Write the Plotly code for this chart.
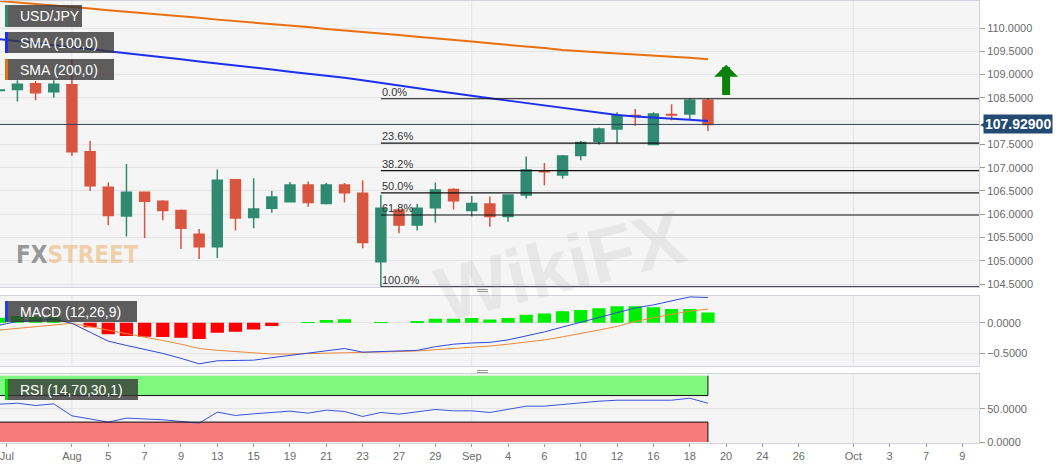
import pandas as pd
import plotly.graph_objects as go
from plotly.subplots import make_subplots

# USD/JPY daily candles, 26 Jul - 19 Sep 2019
dates = ["2019-07-26", "2019-07-29", "2019-07-30", "2019-07-31", "2019-08-01", "2019-08-02",
         "2019-08-05", "2019-08-06", "2019-08-07", "2019-08-08", "2019-08-09", "2019-08-12",
         "2019-08-13", "2019-08-14", "2019-08-15", "2019-08-16", "2019-08-19", "2019-08-20",
         "2019-08-21", "2019-08-22", "2019-08-23", "2019-08-26", "2019-08-27", "2019-08-28",
         "2019-08-29", "2019-08-30", "2019-09-02", "2019-09-03", "2019-09-04", "2019-09-05",
         "2019-09-06", "2019-09-09", "2019-09-10", "2019-09-11", "2019-09-12", "2019-09-13",
         "2019-09-16", "2019-09-17", "2019-09-18", "2019-09-19"]
opens = [108.66, 108.68, 108.80, 108.63, 108.78, 107.34, 106.58, 105.96, 106.47, 106.28,
         106.08, 105.57, 105.30, 106.74, 105.93, 106.13, 106.27, 106.63, 106.23, 106.63,
         106.45, 104.98, 106.09, 105.77, 106.14, 106.53, 106.08, 106.22, 105.95, 106.41,
         106.92, 106.84, 107.26, 107.56, 107.83, 108.12, 107.50, 108.14, 108.15, 108.45]
highs = [108.72, 108.88, 108.86, 108.88, 109.31, 107.57, 106.68, 107.08, 106.48, 106.30,
         106.10, 105.68, 106.96, 106.75, 106.77, 106.50, 106.69, 106.70, 106.67, 106.67,
         106.73, 106.41, 106.10, 106.22, 106.68, 106.56, 106.39, 106.38, 106.43, 107.24,
         107.10, 107.27, 107.57, 107.86, 108.19, 108.26, 108.19, 108.36, 108.49, 108.49]
lows = [108.62, 108.42, 108.45, 108.50, 107.25, 106.50, 105.77, 105.52, 105.49, 105.87,
        105.25, 105.04, 105.06, 105.65, 105.70, 106.03, 106.25, 106.16, 106.21, 106.25,
        105.27, 104.44, 105.59, 105.65, 105.82, 106.10, 105.95, 105.73, 105.84, 106.34,
        106.62, 106.76, 107.16, 107.49, 107.52, 107.90, 107.49, 108.02, 108.04, 107.79]
closes = [108.67, 108.79, 108.61, 108.79, 107.34, 106.61, 105.97, 106.47, 106.28, 106.08,
          105.70, 105.30, 106.73, 105.92, 106.11, 106.37, 106.63, 106.25, 106.63, 106.46,
          105.39, 106.13, 105.77, 106.13, 106.52, 106.29, 106.23, 105.95, 106.41, 106.95,
          106.91, 107.25, 107.54, 107.83, 108.12, 108.11, 108.15, 108.13, 108.45, 107.929]

sma100 = [109.76, 109.72, 109.68, 109.63, 109.59, 109.55, 109.50, 109.46, 109.41, 109.37,
          109.33, 109.28, 109.24, 109.20, 109.15, 109.11, 109.06, 109.02, 108.98, 108.93,
          108.88, 108.82, 108.76, 108.71, 108.65, 108.60, 108.54, 108.49, 108.44, 108.39,
          108.34, 108.29, 108.23, 108.18, 108.13, 108.10, 108.08, 108.05, 108.03, 108.00]
sma200 = [110.58, 110.55, 110.52, 110.48, 110.45, 110.42, 110.38, 110.35, 110.32, 110.28,
          110.25, 110.22, 110.18, 110.15, 110.12, 110.08, 110.05, 110.02, 109.98, 109.95,
          109.92, 109.88, 109.85, 109.81, 109.78, 109.74, 109.71, 109.67, 109.64, 109.60,
          109.57, 109.53, 109.50, 109.47, 109.45, 109.43, 109.40, 109.38, 109.36, 109.33]

macd = [-0.04, 0.02, 0.035, 0.06, -0.01, -0.16, -0.30, -0.37, -0.43, -0.50,
        -0.58, -0.67, -0.62, -0.62, -0.61, -0.57, -0.53, -0.50, -0.46, -0.42,
        -0.48, -0.47, -0.47, -0.45, -0.39, -0.35, -0.33, -0.32, -0.28, -0.22,
        -0.15, -0.07, 0.01, 0.08, 0.16, 0.24, 0.29, 0.35, 0.42, 0.41]
signal = [-0.12, -0.09, -0.065, -0.04, -0.01, -0.065, -0.12, -0.17, -0.23, -0.29,
          -0.35, -0.42, -0.45, -0.47, -0.50, -0.51, -0.51, -0.505, -0.50, -0.495,
          -0.48, -0.48, -0.47, -0.46, -0.44, -0.42, -0.41, -0.38, -0.35, -0.32,
          -0.28, -0.23, -0.18, -0.12, -0.06, 0.02, 0.08, 0.14, 0.19, 0.22]
hist = [0.08, 0.11, 0.10, 0.10, 0.0, -0.076, -0.19, -0.217, -0.228, -0.234,
        -0.245, -0.266, -0.163, -0.147, -0.109, -0.054, 0.0, 0.005, 0.045, 0.055,
        0.0, 0.005, 0.0, 0.02, 0.065, 0.065, 0.076, 0.054, 0.076, 0.13,
        0.15, 0.185, 0.207, 0.234, 0.266, 0.266, 0.25, 0.223, 0.223, 0.168]

rsi = [57.0, 58.5, 55.0, 57.5, 39.5, 35.0, 30.0, 36.0, 34.8, 33.5,
       31.0, 28.5, 45.0, 40.0, 42.5, 44.5, 46.5, 43.5, 48.0, 46.0,
       38.5, 44.5, 42.0, 45.5, 49.0, 47.0, 47.0, 44.5, 49.0, 54.0,
       54.0, 56.6, 59.5, 61.5, 63.0, 63.0, 63.0, 63.0, 66.0, 58.5]

# fibonacci retracement from the 26 Aug low to the 18 Sep high
fib_low = 104.44
fib_high = 108.48
fib_start = "2019-08-26"
fib_levels = [0.0, 23.6, 38.2, 50.0, 61.8, 100.0]

last_price = 107.929
arrow_date = "2019-09-20"
arrow_from = 108.53
arrow_to = 109.21

# 108.0000 is hidden behind the last-price tag in the original
price_ticks = [104.5, 105.0, 105.5, 106.0, 106.5, 107.0, 107.5, 108.5, 109.0, 109.5, 110.0]
price_grid = [108.0]
# first label sits a little right of the 26 Jul candle
tick_dates = ["2019-07-26 10:00", "2019-08-01", "2019-08-05", "2019-08-07", "2019-08-09", "2019-08-13",
              "2019-08-15", "2019-08-19", "2019-08-21", "2019-08-23", "2019-08-27", "2019-08-29",
              "2019-09-02", "2019-09-04", "2019-09-06", "2019-09-10", "2019-09-12", "2019-09-16",
              "2019-09-18", "2019-09-20", "2019-09-24", "2019-09-26", "2019-10-01", "2019-10-03",
              "2019-10-07", "2019-10-09"]
tick_labels = ["Jul", "Aug", "5", "7", "9", "13", "15", "19", "21", "23", "27", "29",
               "Sep", "4", "6", "10", "12", "16", "18", "20", "24", "26", "Oct", "3", "7", "9"]
month_starts = ["2019-08-01", "2019-09-02", "2019-10-01"]

GREEN = "#2f8a70"
RED = "#d8553f"
GRID = "#e4e4e6"
BORDER = "#d0d3dc"
FONT = "Liberation Sans, Arial, sans-serif"

noon = pd.Timedelta(hours=12)
x = pd.to_datetime(dates) + noon
x_start = pd.Timestamp("2019-07-26 13:00")
x_end = pd.Timestamp("2019-10-10 10:00")

fig = make_subplots(rows=3, cols=1, shared_xaxes=True)

fig.add_trace(go.Candlestick(
    x=x, open=opens, high=highs, low=lows, close=closes,
    increasing=dict(line=dict(color=GREEN, width=1.5), fillcolor=GREEN),
    decreasing=dict(line=dict(color=RED, width=1.5), fillcolor=RED),
    whiskerwidth=0, showlegend=False), row=1, col=1)
fig.add_trace(go.Scatter(x=x, y=sma200, mode="lines", line=dict(color="#e8700f", width=2),
                         showlegend=False), row=1, col=1)
fig.add_trace(go.Scatter(x=x, y=sma100, mode="lines", line=dict(color="#1f2ff0", width=2),
                         showlegend=False), row=1, col=1)

fig.add_trace(go.Bar(x=x, y=hist, marker=dict(color=["#00ee00" if h >= 0 else "#ff0000" for h in hist],
                                                   line=dict(width=0)),
                     showlegend=False), row=2, col=1)
fig.add_trace(go.Scatter(x=x, y=signal, mode="lines", line=dict(color="#f08a3a", width=1),
                         showlegend=False), row=2, col=1)
fig.add_trace(go.Scatter(x=x, y=macd, mode="lines", line=dict(color="#2e4ad8", width=1),
                         showlegend=False), row=2, col=1)

fig.add_trace(go.Scatter(x=x, y=rsi, mode="lines", line=dict(color="#3a55dc", width=1),
                         showlegend=False), row=3, col=1)

# month separators in every panel
for xr, yr in [("x", "y"), ("x2", "y2"), ("x3", "y3")]:
    for m in month_starts:
        mx = pd.Timestamp(m) + noon
        fig.add_shape(type="line", x0=mx, x1=mx, y0=0, y1=1, xref=xr, yref=yr + " domain",
                      layer="below", line=dict(color=GRID, width=1))
for g in price_grid:
    fig.add_shape(type="line", x0=0, x1=1, y0=g, y1=g, xref="x domain", yref="y",
                  layer="below", line=dict(color=GRID, width=1))

# fibonacci levels
fx = pd.Timestamp(fib_start) + noon
for lvl in fib_levels:
    level_price = fib_high - lvl / 100 * (fib_high - fib_low)
    fig.add_shape(type="line", x0=fx, x1=x_end, y0=level_price, y1=level_price,
                  xref="x", yref="y", line=dict(color="#111111", width=1.2))
    fig.add_annotation(x=fx, y=level_price, xref="x", yref="y", text=f"{lvl:.1f}%",
                       showarrow=False, xanchor="left", yanchor="bottom", borderpad=0,
                       font=dict(family=FONT, size=11, color="#333333"))

# last price line and tag
fig.add_shape(type="line", x0=0, x1=1, y0=last_price, y1=last_price, xref="x domain", yref="y",
              line=dict(color="#2c3f5e", width=1))
fig.add_annotation(x=1, y=last_price, xref="paper", yref="y", text=f"<b>{last_price:.5f}</b>",
                   showarrow=False, xanchor="left", yanchor="middle", xshift=4, borderpad=1,
                   bgcolor="#234a72", font=dict(family=FONT, size=14, color="white"))
fig.add_annotation(x=1, y=last_price, xref="paper", yref="y", text="◀", showarrow=False,
                   xanchor="left", yanchor="middle", xshift=-1,
                   font=dict(family="DejaVu Sans", size=8, color="#234a72"))

# green up arrow
ax_x = pd.Timestamp(arrow_date) + noon
fig.add_annotation(x=ax_x, y=arrow_to, ax=ax_x, ay=arrow_from, xref="x", yref="y",
                   axref="x", ayref="y", text="", showarrow=True, arrowhead=1,
                   arrowsize=0.5, arrowwidth=8, arrowcolor="#0b800b")

# RSI overbought / oversold bands
x_last = x[-1]
fig.add_shape(type="rect", x0=x_start, x1=x_last, y0=70, y1=100, xref="x3", yref="y3",
              layer="below", fillcolor="#7ff87f", line=dict(width=0))
fig.add_shape(type="rect", x0=x_start, x1=x_last, y0=0, y1=30, xref="x3", yref="y3",
              layer="below", fillcolor="#f87b7b", line=dict(width=0))
for y0, y1 in [(70, 70), (30, 30), (70, 100), (0, 30)]:
    xa = x_start if y0 == y1 else x_last
    fig.add_shape(type="line", x0=xa, x1=x_last, y0=y0, y1=y1, xref="x3", yref="y3",
                  line=dict(color="#111111", width=1))


# indicator labels (pixel boxes in the plot area: 979 x 442, top at y=1)
def px(v):
    return v / 979


def py(v):
    return (443 - v) / 442


def add_label(text, x1, top, bottom, bar_color):
    fig.add_shape(type="rect", xref="paper", yref="paper", x0=px(5), x1=px(x1), y0=py(bottom), y1=py(top),
                  fillcolor="rgba(55,55,55,0.8)", line=dict(width=0))
    fig.add_shape(type="rect", xref="paper", yref="paper", x0=px(5), x1=px(8), y0=py(bottom), y1=py(top),
                  fillcolor=bar_color, line=dict(width=0))
    fig.add_annotation(x=px(18), y=py((top + bottom) / 2), xref="paper", yref="paper", text=text,
                       showarrow=False, xanchor="left", yanchor="middle",
                       font=dict(family=FONT, size=14, color="white"))


add_label("USD/JPY", 82, 5, 27, GREEN)
add_label("SMA (100,0)", 114, 32, 53, "#1f2ff0")
add_label("SMA (200,0)", 114, 59, 80, "#e8700f")
add_label("MACD (12,26,9)", 137, 301, 322, "#1f3fe0")
add_label("RSI (14,70,30,1)", 138, 379, 400, "#00dd00")

# panel grips
for gy in [289.5, 291.5, 370.5, 372.5]:
    fig.add_shape(type="line", xref="paper", yref="paper", x0=px(477), x1=px(488), y0=py(gy), y1=py(gy),
                  line=dict(color="#9a9a9a", width=1))

# watermarks
fig.add_annotation(x=px(14), y=py(255), xref="paper", yref="paper", showarrow=False,
                   xanchor="left", yanchor="middle",
                   text="<b>FX</b><b><span style='color:rgba(232,168,88,0.7)'>STREET</span></b>",
                   font=dict(family="Liberation Sans Narrow, DejaVu Sans Condensed, sans-serif",
                             size=24, color="rgba(110,110,110,0.7)"))
fig.add_annotation(x=px(560), y=py(265), xref="paper", yref="paper", showarrow=False,
                   text="<b>WikiFX</b>", textangle=-14,
                   font=dict(family=FONT, size=76, color="rgba(150,150,150,0.14)"))

axis_common = dict(showline=True, mirror=True, linecolor=BORDER, linewidth=1, automargin=False,
                   rangebreaks=[dict(bounds=["sat", "mon"])], range=[x_start, x_end],
                   showgrid=False, zeroline=False)
fig.update_xaxes(**axis_common)
fig.update_xaxes(showticklabels=False, ticks="", row=1, col=1)
fig.update_xaxes(showticklabels=False, ticks="", row=2, col=1)
fig.update_xaxes(tickvals=[pd.Timestamp(d) + noon for d in tick_dates], ticktext=tick_labels,
                 ticks="outside", ticklen=3, tickcolor="#9a9a9a", ticklabeloverflow="allow",
                 tickfont=dict(family=FONT, size=11, color="#6a6a6a"), row=3, col=1)
fig.update_xaxes(rangeslider_visible=False)

y_common = dict(side="right", showline=True, mirror=True, linecolor=BORDER, linewidth=1,
                showgrid=True, gridcolor=GRID, gridwidth=1, zeroline=False, automargin=False,
                ticks="outside", ticklen=5, tickcolor="#9a9a9a", tickformat=".4f",
                tickfont=dict(family=FONT, size=11, color="#6a6a6a"))
fig.update_yaxes(**y_common)
fig.update_layout(
    yaxis=dict(domain=[0.3529, 1.0], range=[104.436, 110.58], tickvals=price_ticks),
    yaxis2=dict(domain=[0.1749, 0.3326], range=[-0.70, 0.435], tickvals=[-0.5, 0.0]),
    yaxis3=dict(domain=[0.0, 0.1561], range=[-1.5, 102.5], tickvals=[0, 50]),
)

fig.update_layout(
    width=1063, height=469,
    margin=dict(l=0, r=84, t=1, b=26),
    paper_bgcolor="white", plot_bgcolor="#f5f5f6",
    boxgap=0.22, bargap=0.27,
    showlegend=False,
    font=dict(family=FONT),
)

# the page's default body margin would push the chart 8px right and down
fig.write_html("out.html", config={"displayModeBar": False},
               post_script="document.body.style.margin = '0';")
